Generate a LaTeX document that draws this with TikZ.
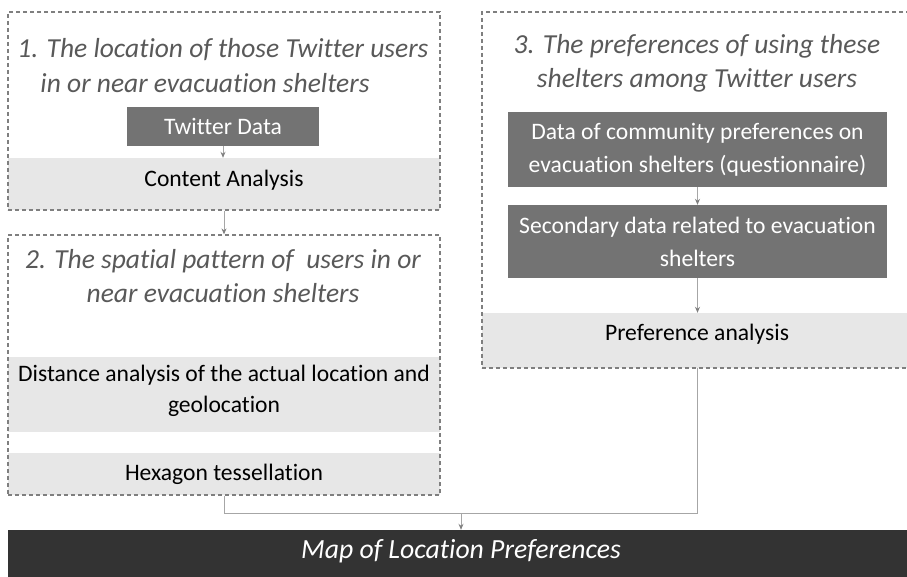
\documentclass[tikz,border=0pt]{standalone}
\usepackage{fontspec}
\setmainfont{Carlito}[Ligatures=CommonOff]
\usetikzlibrary{arrows.meta}
\definecolor{darkbox}{HTML}{737373}
\definecolor{band}{HTML}{E7E7E7}
\definecolor{mapbar}{HTML}{333333}
\definecolor{titlegray}{HTML}{595959}
\definecolor{dashgray}{HTML}{7F7F7F}
\definecolor{linegray}{HTML}{A6A6A6}
\tikzset{
  group/.style={draw=dashgray, line width=1.2pt, dash pattern=on 4pt off 3pt, inner sep=0pt},
  databox/.style={fill=darkbox, draw=none, text=white, align=center, inner sep=0pt,
    font=\fontsize{23.6}{33}\selectfont},
  bandbox/.style={fill=band, draw=none, text=black, align=center, inner sep=0pt,
    font=\fontsize{23.6}{31}\selectfont},
  titletext/.style={text=titlegray, align=center, inner sep=0pt,
    font=\fontsize{27.5}{34}\selectfont\itshape},
  conn/.style={draw=linegray, line width=0.9pt},
  arr/.style={conn, -{Stealth[length=6pt,width=5pt,color=gray]}},
}
\begin{document}
\begin{tikzpicture}[x=1pt,y=-1pt]
\useasboundingbox (0,0) rectangle (907,577);
% bands
\node[bandbox, minimum width=432, minimum height=52] (content) at (224,184) {};
\node[bandbox, minimum width=432, minimum height=75] (dist) at (224,394.5) {};
\node[bandbox, minimum width=432, minimum height=42] (hex) at (224,474) {};
\node[bandbox, minimum width=428, minimum height=55] (pref) at (696,340.5) {};

% group boxes
\node[group, minimum width=432, minimum height=198] (g1) at (224,111) {};
\node[group, minimum width=432, minimum height=260] (g2) at (224,365) {};
\node[group, minimum width=428, minimum height=356] (g3) at (696,190) {};

% texts of bands
\node[bandbox, fill=none] (contentT) at (224,180) {Content Analysis};
\node[bandbox, fill=none] (distT) at (224,391) {Distance analysis of the actual location and\\geolocation};
\node[bandbox, fill=none] (hexT) at (224,474) {Hexagon tessellation};
\node[bandbox, fill=none] (prefT) at (697,334) {Preference analysis};

% titles
\node[titletext] (t1a) at (223,50) {1. The location of those Twitter users};
\node[titletext] (t1b) at (205,83) {in or near evacuation shelters};
\node[titletext] (t2) at (223,276) {2. The spatial pattern of \ users in or\\near evacuation shelters};
\node[titletext] (t3) at (697,63) {3. The preferences of using these\\shelters among Twitter users};

% data boxes
\node[databox, minimum width=192, minimum height=39] (twitter) at (223,126.5) {Twitter Data};
\node[databox, minimum width=379, minimum height=75] (community) at (697.5,149.5) {Data of community preferences on\\evacuation shelters (questionnaire)};
\node[databox, minimum width=379, minimum height=73] (secondary) at (697.5,241.5) {Secondary data related to evacuation\\shelters};

% map bar
\node[fill=mapbar, minimum width=903, minimum height=50, inner sep=0pt] (map) at (459.5,555) {};
\node[text=white, inner sep=0pt, font=\fontsize{27.7}{30}\selectfont\itshape] (mapT) at (461,551) {Map of Location Preferences};

% connectors
\draw[arr] (twitter.south) -- (twitter.south |- content.north);
\draw[arr] (g1.south) -- (g2.north);
\draw[arr] (community.south) -- (secondary.north);
\draw[arr] (secondary.south) -- (secondary.south |- pref.north);
\coordinate (join) at (461,513);
\draw[conn] (g2.south) |- (join);
\draw[conn] (join) -| (697,368);
\draw[arr] (join) -- (join |- map.north);
\end{tikzpicture}
\end{document}
